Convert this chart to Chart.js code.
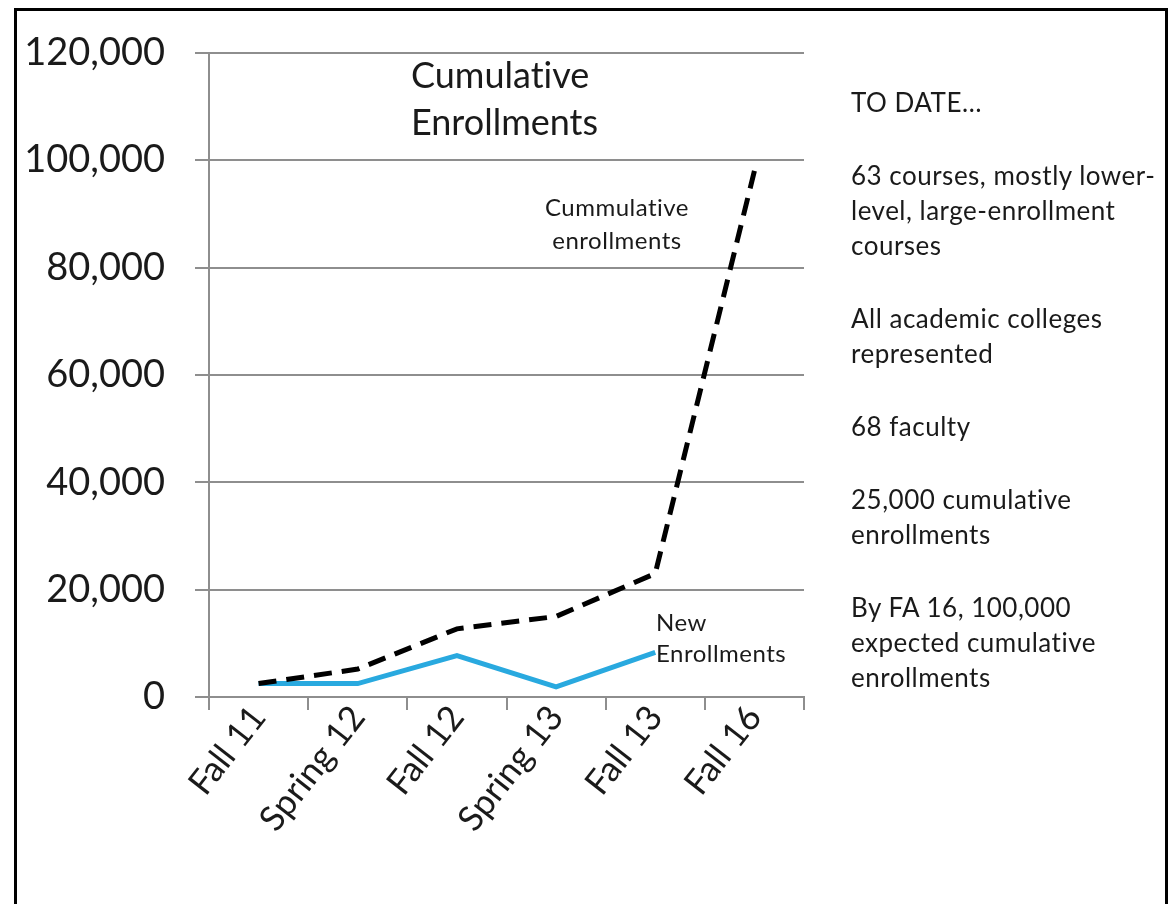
<!DOCTYPE html>
<html>
<head>
<meta charset="utf-8">
<script src="https://cdn.jsdelivr.net/npm/chart.js@4.4.0/dist/chart.umd.min.js"></script>
<style>
    body { margin: 0; background: #fff; overflow: hidden; font-family: Lato, sans-serif; color: #1a1a1a; font-variant-ligatures: none; }
    #page { position: relative; width: 1170px; height: 904px; overflow: hidden; }
    #frame { position: absolute; left: 14px; top: 8px; width: 1148px; height: 1000px; border: 3px solid #000; }
    #chartBox { position: absolute; left: 0; top: 0; width: 1170px; height: 904px; }
    .note { position: absolute; white-space: nowrap; }
    #title { left: 411px; top: 51px; font-size: 36px; line-height: 47px; }
    #cumLabel { left: 517px; top: 190px; width: 200px; text-align: center; font-size: 24px; line-height: 33px; letter-spacing: 0.5px; }
    #newLabel { left: 656px; top: 606px; font-size: 24px; line-height: 31px; letter-spacing: 0.5px; }
    #side { left: 851px; top: 85px; font-size: 26px; line-height: 35px; letter-spacing: 0.5px; }
    #side p { margin: 0 0 38px 0; }
</style>
</head>
<body>
<div id="page">
    <div id="frame"></div>
    <div id="chartBox"><canvas id="myChart"></canvas></div>
    <div class="note" id="title">Cumulative<br>Enrollments</div>
    <div class="note" id="cumLabel">Cummulative<br>enrollments</div>
    <div class="note" id="newLabel">New<br>Enrollments</div>
    <div class="note" id="side">
        <p>TO DATE…</p>
        <p>63 courses, mostly lower-<br>level, large-enrollment<br>courses</p>
        <p>All academic colleges<br>represented</p>
        <p>68 faculty</p>
        <p>25,000 cumulative<br>enrollments</p>
        <p>By FA 16, 100,000<br>expected cumulative<br>enrollments</p>
    </div>
</div>
<script>
const terms = ['Fall 11', 'Spring 12', 'Fall 12', 'Spring 13', 'Fall 13', 'Fall 16'];
const cumulativeEnrollments = [2500, 5200, 12700, 15000, 23000, 98000];
const newEnrollments = [2500, 2500, 7700, 1900, 8300, null];
const yTicks = [0, 20000, 40000, 60000, 80000, 100000, 120000];

const axisGray = '#8e8e8e';

const ctx = document.getElementById('myChart').getContext('2d');
const myChartObj = new Chart(ctx, {
    type: 'line',
    data: {
        labels: terms,
        datasets: [{
            label: 'Cumulative enrollments',
            data: cumulativeEnrollments,
            borderColor: '#000',
            borderWidth: 5,
            borderDash: [18, 10],
            pointRadius: 0,
            tension: 0,
            fill: false
        }, {
            label: 'New Enrollments',
            data: newEnrollments,
            borderColor: '#29a9df',
            borderWidth: 5,
            pointRadius: 0,
            tension: 0,
            fill: false
        }]
    },
    options: {
        responsive: true,
        maintainAspectRatio: false,
        animation: false,
        layout: { padding: { top: 38, right: 366, bottom: 0, left: 0 } },
        plugins: { legend: { display: false }, tooltip: { enabled: false } },
        scales: {
            x: {
                offset: true,
                grid: { offset: true, drawOnChartArea: false, tickLength: 13, color: axisGray, lineWidth: 2 },
                border: { color: axisGray, width: 2 },
                ticks: {
                    maxRotation: 52, minRotation: 52, padding: -12,
                    color: '#1a1a1a',
                    font: { family: 'Lato', size: 35 }
                },
                afterFit: s => { s.height = 207; }
            },
            y: {
                min: yTicks[0],
                max: yTicks[yTicks.length - 1],
                afterBuildTicks: s => { s.ticks = yTicks.map(v => ({ value: v })); },
                grid: { tickLength: 14, color: axisGray, lineWidth: 2 },
                border: { color: axisGray, width: 2 },
                ticks: {
                    padding: 30,
                    color: '#1a1a1a',
                    font: { family: 'Lato', size: 38 },
                    callback: v => v.toLocaleString('en-US')
                },
                afterFit: s => { s.width = 209; }
            }
        }
    }
});
</script>
</body>
</html>
